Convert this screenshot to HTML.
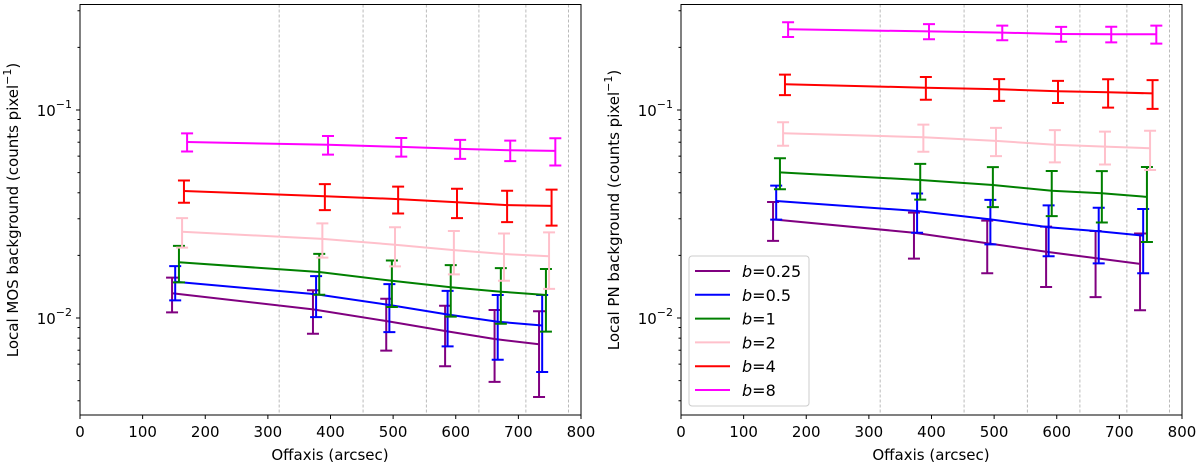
<!DOCTYPE html>
<html><head><meta charset="utf-8"><style>
body{margin:0;background:#fff}
svg{display:block;font-family:"DejaVu Sans","Liberation Sans",sans-serif}
</style></head><body>
<svg id="c" width="1200" height="466" viewBox="0 0 1200 466"></svg>
<script>
const xTicks=[0,100,200,300,400,500,600,700,800];
const dashX=[318,452,553,637,712,780];
const series=['b=0.25','b=0.5','b=1','b=2','b=4','b=8'];
const labels=['0.25','0.5','1','2','4','8'];
const colors=['purple','blue','green','pink','red','magenta'];
const xPurple=[147,372,489,583,662,733];
const xBlue=[152,377,494,587,667,738];
const xGreen=[158,382,498,592,672,744];
const xPink=[163,387,503,597,677,749];
const xRed=[166,391,508,602,682,753];
const xMagenta=[171,396,513,607,687,759];
// MOS panel
const mosPurple=[0.01314,0.0110,0.00967,0.00866,0.00793,0.00747];
const mosPurpleErr=[0.0025,0.0026,0.0027,0.0028,0.0030,0.0033];
const mosBlue=[0.01495,0.0130,0.01155,0.0104,0.0096,0.0092];
const mosBlueErr=[0.0028,0.0029,0.0030,0.0031,0.0033,0.0037];
const mosGreen=[0.01853,0.01664,0.0151,0.01405,0.01338,0.0129];
const mosGreenErr=[0.0037,0.0037,0.0038,0.0039,0.0040,0.0043];
const mosPink=[0.026,0.024,0.0225,0.0212,0.0203,0.0198];
const mosPinkErr=[0.0042,0.0045,0.0048,0.0050,0.0052,0.0060];
const mosRed=[0.0408,0.0385,0.0373,0.036,0.0349,0.0346];
const mosRedErr=[0.005,0.0055,0.0055,0.0058,0.006,0.0068];
const mosMagenta=[0.0702,0.068,0.0665,0.065,0.064,0.0636];
const mosMagentaErr=[0.007,0.007,0.0068,0.0068,0.0072,0.0095];
// PN panel
const pnPurple=[0.0298,0.0257,0.0229,0.0208,0.0194,0.0182];
const pnPurpleErr=[0.0063,0.0064,0.0065,0.0067,0.0068,0.0073];
const pnBlue=[0.0365,0.0327,0.0298,0.0273,0.0261,0.0249];
const pnBlueErr=[0.0068,0.007,0.0072,0.0075,0.0078,0.0085];
const pnGreen=[0.0501,0.0461,0.0436,0.0409,0.0398,0.0382];
const pnGreenErr=[0.0085,0.009,0.0095,0.01,0.011,0.015];
const pnPink=[0.0773,0.074,0.071,0.068,0.0667,0.0655];
const pnPinkErr=[0.01,0.011,0.011,0.012,0.012,0.014];
const pnRed=[0.1329,0.128,0.1257,0.123,0.1216,0.1202];
const pnRedErr=[0.015,0.016,0.015,0.015,0.019,0.019];
const pnMagenta=[0.2443,0.2388,0.2355,0.232,0.2315,0.2315];
const pnMagentaErr=[0.02,0.02,0.019,0.019,0.02,0.023];

const NS='http://www.w3.org/2000/svg';
const svg=document.getElementById('c');
function el(t,a,p){const e=document.createElementNS(NS,t);for(const k in a)e.setAttribute(k,a[k]);(p||svg).appendChild(e);return e;}
const xs=[xPurple,xBlue,xGreen,xPink,xRed,xMagenta];
const panels=[
 {x0:80,name:'mos',ylab:'Local MOS background (counts pixel',vals:[mosPurple,mosBlue,mosGreen,mosPink,mosRed,mosMagenta],errs:[mosPurpleErr,mosBlueErr,mosGreenErr,mosPinkErr,mosRedErr,mosMagentaErr]},
 {x0:681,name:'pn',ylab:'Local PN background (counts pixel',vals:[pnPurple,pnBlue,pnGreen,pnPink,pnRed,pnMagenta],errs:[pnPurpleErr,pnBlueErr,pnGreenErr,pnPinkErr,pnRedErr,pnMagentaErr]}
];
const yTop=4.5,bot=415,y1=110,dec=208;
function Y(v){return y1-(Math.log10(v)+1)*dec;}
panels.forEach(P=>{
 const X=v=>P.x0+v*501/800;
 const g=el('g',{});
 
 
 dashX.forEach(d=>{const l=el('line',{x1:X(d),x2:X(d),y1:yTop,y2:bot,stroke:'#aaa','stroke-width':0.8,'stroke-dasharray':'3,2'},g);
  
  });
 for(let s=0;s<6;s++){
  const vs=P.vals[s],es=P.errs[s],xx=xs[s];
  const sg=el('g',{},g);
  
  
  const pts=vs.map((v,i)=>X(xx[i]).toFixed(1)+','+Y(v).toFixed(1)).join(' ');
  el('polyline',{points:pts,fill:'none',stroke:colors[s],'stroke-width':2},sg);
  vs.forEach((v,i)=>{const cx=X(xx[i]),a=Y(v+es[i]),b=Y(v-es[i]);
   const e=el('path',{d:`M${cx},${a}V${b}M${cx-6},${a}H${cx+6}M${cx-6},${b}H${cx+6}`,stroke:colors[s],'stroke-width':2,fill:'none'},sg);
   
   });
 }
 el('rect',{x:P.x0,y:yTop,width:501,height:bot-yTop,fill:'none',stroke:'#000','stroke-width':1},g);
 xTicks.forEach(t=>{el('line',{x1:X(t),x2:X(t),y1:bot,y2:bot+4,stroke:'#000'},g);
  const tx=el('text',{x:X(t),y:bot+22,'text-anchor':'middle','font-size':15},g);tx.textContent=t;
  
  });
 for(let e=-3;e<=-1;e++)for(let m=1;m<10;m++){const v=m*Math.pow(10,e),y=Y(v);if(y<yTop||y>bot)continue;
  el('line',{x1:P.x0-(m==1?4:2.5),x2:P.x0,y1:y,y2:y,stroke:'#000'},g);}
 [-1,-2].forEach(e=>{const t=el('text',{x:P.x0-8,y:Y(Math.pow(10,e))+6,'text-anchor':'end','font-size':15},g);
  t.innerHTML='10<tspan dy="-8" font-size="11">−'+(-e)+'</tspan>';
  
  });
 const xl=el('text',{x:P.x0+250,y:460,'text-anchor':'middle','font-size':15},g);xl.textContent='Offaxis (arcsec)';
 
 
 const yl=el('text',{x:0,y:0,'text-anchor':'middle','font-size':15,transform:`translate(${P.x0-62},210) rotate(-90)`},g);
 yl.innerHTML=P.ylab+'<tspan dy="-7" font-size="11">−1</tspan><tspan dy="7">)</tspan>';
 
 
});
const lg=el('g',{});


el('rect',{x:689,y:256,width:120,height:150,rx:3,fill:'#fff','fill-opacity':0.85,stroke:'#ccc'},lg);
for(let s=0;s<6;s++){const y=271+s*23.8;
 const e=el('g',{},lg);
 
 
 el('line',{x1:695,x2:730,y1:y,y2:y,stroke:colors[s],'stroke-width':2},e);
 const t=el('text',{x:742,y:y+6,'font-size':16},e);
 t.innerHTML='<tspan font-style="italic">b</tspan>='+labels[s];}
</script>
</body></html>
